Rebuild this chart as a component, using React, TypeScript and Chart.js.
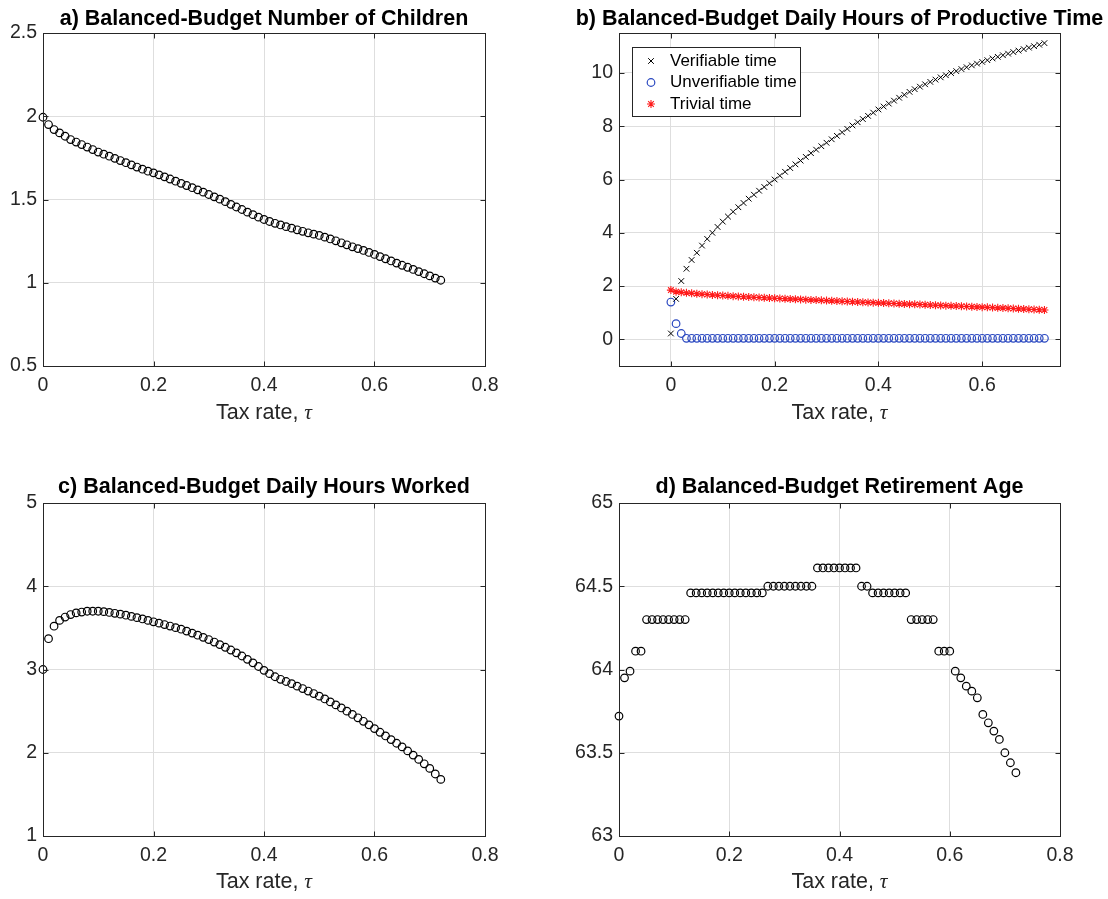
import React, { useEffect, useRef } from 'react';
import { Chart, registerables } from 'chart.js';
import { drawPoint } from 'chart.js/helpers';

Chart.register(...registerables);

// ---------------- data ----------------
const taxRate = [
  0, 0.01, 0.02, 0.03, 0.04, 0.05, 0.06, 0.07, 0.08, 0.09,
  0.1, 0.11, 0.12, 0.13, 0.14, 0.15, 0.16, 0.17, 0.18, 0.19,
  0.2, 0.21, 0.22, 0.23, 0.24, 0.25, 0.26, 0.27, 0.28, 0.29,
  0.3, 0.31, 0.32, 0.33, 0.34, 0.35, 0.36, 0.37, 0.38, 0.39,
  0.4, 0.41, 0.42, 0.43, 0.44, 0.45, 0.46, 0.47, 0.48, 0.49,
  0.5, 0.51, 0.52, 0.53, 0.54, 0.55, 0.56, 0.57, 0.58, 0.59,
  0.6, 0.61, 0.62, 0.63, 0.64, 0.65, 0.66, 0.67, 0.68, 0.69,
  0.7, 0.71, 0.72,
];

const numChildren = [
  1.994, 1.950, 1.920, 1.900, 1.880, 1.860, 1.845, 1.830, 1.815, 1.800,
  1.785, 1.772, 1.760, 1.747, 1.734, 1.721, 1.708, 1.695, 1.682, 1.670,
  1.660, 1.648, 1.636, 1.623, 1.610, 1.597, 1.584, 1.571, 1.558, 1.544,
  1.530, 1.516, 1.502, 1.487, 1.471, 1.455, 1.440, 1.424, 1.409, 1.394,
  1.380, 1.368, 1.357, 1.347, 1.337, 1.328, 1.318, 1.309, 1.300, 1.292,
  1.284, 1.274, 1.263, 1.252, 1.240, 1.228, 1.216, 1.205, 1.194, 1.182,
  1.170, 1.157, 1.144, 1.131, 1.118, 1.105, 1.093, 1.080, 1.067, 1.054,
  1.041, 1.028, 1.015,
];

const verifiableTime = [
  0.22, 1.52, 2.19, 2.65, 2.98, 3.25, 3.52, 3.77, 4.00, 4.22,
  4.42, 4.61, 4.79, 4.96, 5.12, 5.28, 5.43, 5.58, 5.72, 5.86,
  6.00, 6.145, 6.29, 6.43, 6.57, 6.71, 6.85, 6.99, 7.12, 7.25,
  7.38, 7.51, 7.64, 7.77, 7.90, 8.03, 8.15, 8.27, 8.39, 8.51,
  8.63, 8.74, 8.85, 8.96, 9.07, 9.18, 9.29, 9.39, 9.485, 9.575,
  9.665, 9.75, 9.835, 9.915, 9.995, 10.07, 10.145, 10.215, 10.285, 10.35,
  10.415, 10.48, 10.545, 10.605, 10.665, 10.725, 10.785, 10.84, 10.895, 10.95,
  11.005, 11.06, 11.12,
];

const unverifiableTime = [
  1.40, 0.59, 0.22, 0.04, 0.04, 0.04, 0.04, 0.04, 0.04, 0.04,
  0.04, 0.04, 0.04, 0.04, 0.04, 0.04, 0.04, 0.04, 0.04, 0.04,
  0.04, 0.04, 0.04, 0.04, 0.04, 0.04, 0.04, 0.04, 0.04, 0.04,
  0.04, 0.04, 0.04, 0.04, 0.04, 0.04, 0.04, 0.04, 0.04, 0.04,
  0.04, 0.04, 0.04, 0.04, 0.04, 0.04, 0.04, 0.04, 0.04, 0.04,
  0.04, 0.04, 0.04, 0.04, 0.04, 0.04, 0.04, 0.04, 0.04, 0.04,
  0.04, 0.04, 0.04, 0.04, 0.04, 0.04, 0.04, 0.04, 0.04, 0.04,
  0.04, 0.04, 0.04,
];

const trivialTime = [
  1.85, 1.79, 1.765, 1.745, 1.728, 1.712, 1.697, 1.683, 1.669, 1.656,
  1.644, 1.633, 1.622, 1.611, 1.601, 1.591, 1.581, 1.572, 1.563, 1.554,
  1.545, 1.536, 1.527, 1.518, 1.509, 1.500, 1.491, 1.482, 1.473, 1.464,
  1.455, 1.446, 1.438, 1.429, 1.421, 1.412, 1.404, 1.395, 1.387, 1.378,
  1.370, 1.362, 1.354, 1.346, 1.338, 1.330, 1.322, 1.314, 1.306, 1.298,
  1.290, 1.282, 1.274, 1.266, 1.258, 1.250, 1.242, 1.234, 1.226, 1.218,
  1.210, 1.201, 1.192, 1.183, 1.174, 1.165, 1.156, 1.146, 1.137, 1.128,
  1.119, 1.110, 1.100,
];

const hoursWorked = [
  3.00, 3.37, 3.52, 3.59, 3.63, 3.66, 3.68, 3.69, 3.70, 3.70,
  3.70, 3.695, 3.685, 3.675, 3.665, 3.652, 3.638, 3.623, 3.607, 3.59,
  3.573, 3.557, 3.540, 3.522, 3.503, 3.484, 3.461, 3.437, 3.412, 3.386,
  3.360, 3.330, 3.299, 3.267, 3.234, 3.200, 3.162, 3.122, 3.080, 3.036,
  2.990, 2.950, 2.913, 2.882, 2.856, 2.830, 2.800, 2.771, 2.741, 2.711,
  2.680, 2.646, 2.611, 2.575, 2.538, 2.500, 2.460, 2.420, 2.378, 2.335,
  2.290, 2.246, 2.202, 2.158, 2.114, 2.070, 2.022, 1.972, 1.920, 1.867,
  1.812, 1.745, 1.680,
];

const retirementAge = [
  63.72, 63.95, 63.99, 64.11, 64.11, 64.30, 64.30, 64.30, 64.30, 64.30,
  64.30, 64.30, 64.30, 64.46, 64.46, 64.46, 64.46, 64.46, 64.46, 64.46,
  64.46, 64.46, 64.46, 64.46, 64.46, 64.46, 64.46, 64.50, 64.50, 64.50,
  64.50, 64.50, 64.50, 64.50, 64.50, 64.50, 64.61, 64.61, 64.61, 64.61,
  64.61, 64.61, 64.61, 64.61, 64.50, 64.50, 64.46, 64.46, 64.46, 64.46,
  64.46, 64.46, 64.46, 64.30, 64.30, 64.30, 64.30, 64.30, 64.11, 64.11,
  64.11, 63.99, 63.95, 63.90, 63.87, 63.83, 63.73, 63.68, 63.63, 63.58,
  63.50, 63.44, 63.38,
];

const xTicksFull = [0, 0.2, 0.4, 0.6, 0.8];
const xTicksB = [0, 0.2, 0.4, 0.6];
const yTicksA = [0.5, 1, 1.5, 2, 2.5];
const yTicksB = [0, 2, 4, 6, 8, 10];
const yTicksC = [1, 2, 3, 4, 5];
const yTicksD = [63, 63.5, 64, 64.5, 65];

const titles = [
  'a) Balanced-Budget Number of Children',
  'b) Balanced-Budget Daily Hours of Productive Time',
  'c) Balanced-Budget Daily Hours Worked',
  'd) Balanced-Budget Retirement Age',
];
const xAxisLabel = 'Tax rate, ';
const xAxisSymbol = 'τ';

// ---------------- styling / layout ----------------
const FONT = '"Liberation Sans", Arial, Helvetica, sans-serif';
const AXIS_COLOR = '#262626';
const GRID_COLOR = '#dedede';
const TICK_FONT_SIZE = 19.5;
const TITLE_FONT_SIZE = 21.5;
const LABEL_FONT_SIZE = 21.5;
const LEGEND_FONT_SIZE = 17;

type Series = {
  label: string;
  values: number[];
  style: string;
  radius: number;
  color: string;
  width: number;
};

type LegendSpec = {
  x0: number; y0: number; x1: number; y1: number;
  markerX: number; textX: number; rows: number[];
};

type PanelSpec = {
  id: string;
  left: number; top: number; width: number; height: number;
  area: { l: number; r: number; t: number; b: number };
  title: string; titleY: number; xLabelY: number;
  xMin: number; xMax: number; xTicks: number[];
  yMin: number; yMax: number; yTicks: number[];
  series: Series[];
  legend?: LegendSpec;
};

const blackCircles = (values: number[], label: string): Series => ({
  label, values, style: 'circle', radius: 3.8, color: '#000000', width: 1.2,
});

const panels: PanelSpec[] = [
  {
    id: 'a', left: 0, top: 0, width: 554, height: 450,
    area: { l: 43, r: 485, t: 33, b: 366 },
    title: titles[0], titleY: 19, xLabelY: 413,
    xMin: 0, xMax: 0.8, xTicks: xTicksFull,
    yMin: 0.5, yMax: 2.5, yTicks: yTicksA,
    series: [blackCircles(numChildren, 'Number of children')],
  },
  {
    id: 'b', left: 554, top: 0, width: 554, height: 450,
    area: { l: 65, r: 506, t: 33, b: 366 },
    title: titles[1], titleY: 19, xLabelY: 413,
    xMin: -0.1, xMax: 0.75, xTicks: xTicksB,
    yMin: -1, yMax: 11.5, yTicks: yTicksB,
    series: [
      { label: 'Verifiable time', values: verifiableTime, style: 'crossRot', radius: 4, color: '#000000', width: 1 },
      { label: 'Unverifiable time', values: unverifiableTime, style: 'circle', radius: 3.8, color: '#2a48c0', width: 1.2 },
      { label: 'Trivial time', values: trivialTime, style: 'star', radius: 4, color: '#ff1a1a', width: 1.1 },
    ],
    legend: { x0: 78, y0: 47, x1: 246, y1: 116, markerX: 97, textX: 116, rows: [61, 82.5, 104] },
  },
  {
    id: 'c', left: 0, top: 450, width: 554, height: 449,
    area: { l: 43, r: 485, t: 53, b: 386 },
    title: titles[2], titleY: 37, xLabelY: 432,
    xMin: 0, xMax: 0.8, xTicks: xTicksFull,
    yMin: 1, yMax: 5, yTicks: yTicksC,
    series: [blackCircles(hoursWorked, 'Hours worked')],
  },
  {
    id: 'd', left: 554, top: 450, width: 554, height: 449,
    area: { l: 65, r: 506, t: 53, b: 386 },
    title: titles[3], titleY: 37, xLabelY: 432,
    xMin: 0, xMax: 0.8, xTicks: xTicksFull,
    yMin: 63, yMax: 65, yTicks: yTicksD,
    series: [blackCircles(retirementAge, 'Retirement age')],
  },
];

const framePlugin = (p: PanelSpec) => ({
  id: 'frame_' + p.id,
  afterDraw(chart: any) {
    const ctx: CanvasRenderingContext2D = chart.ctx;
    const { left, right, top, bottom } = chart.chartArea;
    const xs = chart.scales.x;
    const ys = chart.scales.y;
    ctx.save();
    // box
    ctx.strokeStyle = AXIS_COLOR;
    ctx.lineWidth = 1;
    const L = Math.round(left) + 0.5;
    const R = Math.round(right) + 0.5;
    const T = Math.round(top) + 0.5;
    const B = Math.round(bottom) + 0.5;
    ctx.strokeRect(L, T, R - L, B - T);
    // inward ticks
    const TL = 5;
    ctx.beginPath();
    p.xTicks.forEach((v) => {
      const x = Math.round(xs.getPixelForValue(v)) + 0.5;
      ctx.moveTo(x, B); ctx.lineTo(x, B - TL);
      ctx.moveTo(x, T); ctx.lineTo(x, T + TL);
    });
    p.yTicks.forEach((v) => {
      const y = Math.round(ys.getPixelForValue(v)) + 0.5;
      ctx.moveTo(L, y); ctx.lineTo(L + TL, y);
      ctx.moveTo(R, y); ctx.lineTo(R - TL, y);
    });
    ctx.stroke();

    // title
    const cx = (left + right) / 2;
    ctx.fillStyle = '#000000';
    ctx.font = `bold ${TITLE_FONT_SIZE}px ${FONT}`;
    ctx.textAlign = 'center';
    ctx.textBaseline = 'middle';
    ctx.fillText(p.title, cx, p.titleY);

    // x axis label with italic tau
    const f1 = `${LABEL_FONT_SIZE}px ${FONT}`;
    const f2 = `italic ${LABEL_FONT_SIZE}px "Liberation Serif", "DejaVu Serif", serif`;
    ctx.font = f1;
    const w1 = ctx.measureText(xAxisLabel).width;
    ctx.font = f2;
    const w2 = ctx.measureText(xAxisSymbol).width;
    const sx = cx - (w1 + w2) / 2;
    ctx.fillStyle = AXIS_COLOR;
    ctx.textAlign = 'left';
    ctx.font = f1;
    ctx.fillText(xAxisLabel, sx, p.xLabelY);
    ctx.font = f2;
    ctx.fillText(xAxisSymbol, sx + w1, p.xLabelY);

    // legend
    if (p.legend) {
      const lg = p.legend;
      ctx.fillStyle = '#ffffff';
      ctx.fillRect(lg.x0, lg.y0, lg.x1 - lg.x0, lg.y1 - lg.y0);
      ctx.strokeStyle = AXIS_COLOR;
      ctx.lineWidth = 1;
      ctx.strokeRect(Math.round(lg.x0) + 0.5, Math.round(lg.y0) + 0.5,
        Math.round(lg.x1 - lg.x0), Math.round(lg.y1 - lg.y0));
      p.series.forEach((s, i) => {
        const y = lg.rows[i];
        ctx.strokeStyle = s.color;
        ctx.fillStyle = 'rgba(0,0,0,0)';
        ctx.lineWidth = s.width;
        drawPoint(ctx, { pointStyle: s.style as any, radius: s.radius, borderWidth: s.width, rotation: 0 }, lg.markerX, y);
        ctx.fillStyle = '#000000';
        ctx.font = `${LEGEND_FONT_SIZE}px ${FONT}`;
        ctx.textAlign = 'left';
        ctx.textBaseline = 'middle';
        ctx.fillText(s.label, lg.textX, y);
      });
    }
    ctx.restore();
  },
});

function Panel({ spec }: { spec: PanelSpec }) {
  const ref = useRef<HTMLCanvasElement | null>(null);
  useEffect(() => {
    if (!ref.current) return;
    const p = spec;
    const tickFont = { family: FONT, size: TICK_FONT_SIZE };
    const chart = new Chart(ref.current, {
      type: 'scatter',
      data: {
        datasets: p.series.map((s) => ({
          label: s.label,
          data: taxRate.map((x, i) => ({ x, y: s.values[i] })),
          showLine: false,
          pointStyle: s.style as any,
          pointRadius: s.radius,
          pointHoverRadius: s.radius,
          pointBorderWidth: s.width,
          pointBorderColor: s.color,
          pointBackgroundColor: 'rgba(0,0,0,0)',
          borderColor: s.color,
          backgroundColor: 'rgba(0,0,0,0)',
          clip: false as any,
        })),
      },
      options: {
        animation: false,
        responsive: false,
        maintainAspectRatio: false,
        events: [],
        layout: { padding: { left: 0, top: p.area.t, right: p.width - p.area.r, bottom: 0 } },
        plugins: {
          legend: { display: false },
          tooltip: { enabled: false },
          title: { display: false },
        },
        scales: {
          x: {
            type: 'linear',
            min: p.xMin,
            max: p.xMax,
            afterBuildTicks: (axis: any) => { axis.ticks = p.xTicks.map((v) => ({ value: v })); },
            afterFit: (axis: any) => { axis.height = p.height - p.area.b; },
            grid: { color: GRID_COLOR, lineWidth: 1, drawTicks: false },
            border: { display: false },
            ticks: {
              padding: 8,
              font: tickFont,
              color: AXIS_COLOR,
              maxRotation: 0,
              minRotation: 0,
              autoSkip: false,
              callback: (v: any) => String(v),
            },
          },
          y: {
            type: 'linear',
            min: p.yMin,
            max: p.yMax,
            afterBuildTicks: (axis: any) => { axis.ticks = p.yTicks.map((v) => ({ value: v })); },
            afterFit: (axis: any) => { axis.width = p.area.l; },
            grid: { color: GRID_COLOR, lineWidth: 1, drawTicks: false },
            border: { display: false },
            ticks: {
              padding: 6,
              font: tickFont,
              color: AXIS_COLOR,
              autoSkip: false,
              callback: (v: any) => String(v),
            },
          },
        },
      } as any,
      plugins: [framePlugin(p)],
    });
    return () => chart.destroy();
  }, [spec]);
  return (
    <canvas
      ref={ref}
      width={spec.width}
      height={spec.height}
      style={{ position: 'absolute', left: spec.left, top: spec.top, width: spec.width, height: spec.height }}
    />
  );
}

export default function App() {
  return (
    <div style={{ position: 'absolute', left: 0, top: 0, width: 1108, height: 899, background: '#ffffff' }}>
      {panels.map((p) => (
        <Panel key={p.id} spec={p} />
      ))}
    </div>
  );
}
